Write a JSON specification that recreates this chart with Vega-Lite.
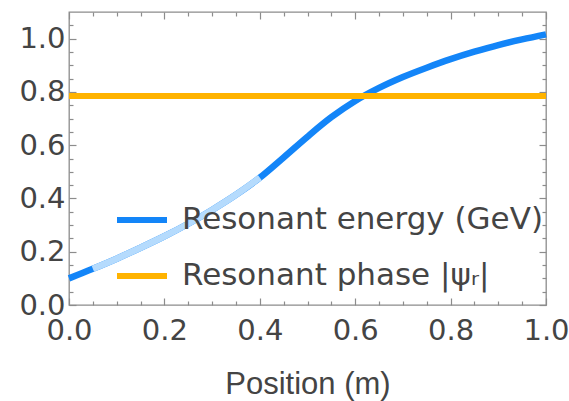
{
  "$schema": "https://vega.github.io/schema/vega-lite/v6.json",
  "width": 477,
  "height": 293,
  "autosize": {"type": "none"},
  "padding": {"left": 69, "top": 12, "right": 23, "bottom": 96},
  "background": "white",
  "config": {
    "view": {"stroke": "#8c8c8c", "strokeWidth": 1.3},
    "font": "DejaVu Sans",
    "axis": {
      "labelFont": "DejaVu Sans",
      "labelFontSize": 29,
      "labelColor": "#444444",
      "titleFont": "Liberation Sans",
      "titleFontSize": 31,
      "titleColor": "#444444",
      "titleFontWeight": "normal",
      "grid": false,
      "domain": false,
      "tickColor": "#8c8c8c",
      "tickWidth": 1.2,
      "labelOverlap": false,
      "labelFlush": false
    }
  },
  "datasets": {
    "energy": [
      {"x": 0.0, "y": 0.1, "series": "Resonant energy (GeV)"},
      {"x": 0.05, "y": 0.136, "series": "Resonant energy (GeV)"},
      {"x": 0.1, "y": 0.174, "series": "Resonant energy (GeV)"},
      {"x": 0.15, "y": 0.215, "series": "Resonant energy (GeV)"},
      {"x": 0.2, "y": 0.258, "series": "Resonant energy (GeV)"},
      {"x": 0.25, "y": 0.305, "series": "Resonant energy (GeV)"},
      {"x": 0.3, "y": 0.357, "series": "Resonant energy (GeV)"},
      {"x": 0.35, "y": 0.414, "series": "Resonant energy (GeV)"},
      {"x": 0.4, "y": 0.478, "series": "Resonant energy (GeV)"},
      {"x": 0.45, "y": 0.554, "series": "Resonant energy (GeV)"},
      {"x": 0.5, "y": 0.632, "series": "Resonant energy (GeV)"},
      {"x": 0.55, "y": 0.705, "series": "Resonant energy (GeV)"},
      {"x": 0.6, "y": 0.766, "series": "Resonant energy (GeV)"},
      {"x": 0.65, "y": 0.815, "series": "Resonant energy (GeV)"},
      {"x": 0.7, "y": 0.856, "series": "Resonant energy (GeV)"},
      {"x": 0.75, "y": 0.891, "series": "Resonant energy (GeV)"},
      {"x": 0.8, "y": 0.923, "series": "Resonant energy (GeV)"},
      {"x": 0.85, "y": 0.951, "series": "Resonant energy (GeV)"},
      {"x": 0.9, "y": 0.976, "series": "Resonant energy (GeV)"},
      {"x": 0.95, "y": 0.997, "series": "Resonant energy (GeV)"},
      {"x": 1.0, "y": 1.016, "series": "Resonant energy (GeV)"}
    ],
    "phase": [
      {"x": 0.0, "y": 0.785, "series": "Resonant phase |ψᵣ|"},
      {"x": 1.0, "y": 0.785, "series": "Resonant phase |ψᵣ|"}
    ]
  },
  "layer": [
    {
      "data": {"name": "energy"},
      "mark": {"type": "line", "strokeWidth": 6.5, "interpolate": "monotone", "strokeCap": "butt"},
      "encoding": {
        "x": {
          "field": "x",
          "type": "quantitative",
          "scale": {"domain": [0, 1], "nice": false, "zero": false},
          "axis": {
            "orient": "bottom",
            "title": "Position (m)",
            "values": [0, 0.05, 0.1, 0.15, 0.2, 0.25, 0.3, 0.35, 0.4, 0.45, 0.5, 0.55, 0.6, 0.65, 0.7, 0.75, 0.8, 0.85, 0.9, 0.95, 1],
            "labelExpr": "abs(datum.value * 5 - round(datum.value * 5)) < 0.001 ? format(datum.value, '.1f') : ''",
            "tickSize": {"condition": {"test": "abs(datum.value * 5 - round(datum.value * 5)) < 0.001", "value": -7}, "value": -4},
            "labelPadding": 18,
            "titlePadding": 21
          }
        },
        "y": {
          "field": "y",
          "type": "quantitative",
          "scale": {"domain": [0, 1.1], "nice": false, "zero": false},
          "axis": {
            "orient": "left",
            "title": null,
            "values": [0, 0.05, 0.1, 0.15, 0.2, 0.25, 0.3, 0.35, 0.4, 0.45, 0.5, 0.55, 0.6, 0.65, 0.7, 0.75, 0.8, 0.85, 0.9, 0.95, 1, 1.05],
            "labelExpr": "abs(datum.value * 5 - round(datum.value * 5)) < 0.001 ? format(datum.value, '.1f') : ''",
            "tickSize": {"condition": {"test": "abs(datum.value * 5 - round(datum.value * 5)) < 0.001", "value": -7}, "value": -4},
            "labelPadding": 11
          }
        },
        "color": {
          "field": "series",
          "type": "nominal",
          "scale": {"domain": ["Resonant energy (GeV)", "Resonant phase |ψᵣ|"], "range": ["#1385f8", "#ffb300"]},
          "legend": {
            "orient": "none",
            "legendX": 45,
            "legendY": 180,
            "title": null,
            "symbolType": "stroke",
            "symbolSize": 2500,
            "symbolStrokeWidth": 6,
            "labelFont": "DejaVu Sans",
            "labelFontSize": 31,
            "labelColor": "#444444",
            "labelLimit": 0,
            "rowPadding": 13,
            "labelOffset": 12,
            "padding": 0
          }
        }
      }
    },
    {
      "data": {"name": "energy"},
      "transform": [{"filter": "datum.x >= 0.05 && datum.x <= 0.4"}],
      "mark": {"type": "line", "strokeWidth": 6.5, "interpolate": "monotone", "strokeCap": "butt", "color": "#b5dbfd"},
      "encoding": {
        "x": {"field": "x", "type": "quantitative", "axis": null},
        "y": {"field": "y", "type": "quantitative", "axis": null}
      }
    },
    {
      "data": {"name": "phase"},
      "mark": {"type": "line", "strokeWidth": 6, "strokeCap": "butt"},
      "encoding": {
        "x": {
          "field": "x",
          "type": "quantitative",
          "axis": {
            "orient": "top",
            "title": null,
            "labels": false,
            "values": [0, 0.05, 0.1, 0.15, 0.2, 0.25, 0.3, 0.35, 0.4, 0.45, 0.5, 0.55, 0.6, 0.65, 0.7, 0.75, 0.8, 0.85, 0.9, 0.95, 1],
            "tickSize": {"condition": {"test": "abs(datum.value * 5 - round(datum.value * 5)) < 0.001", "value": -7}, "value": -4}
          }
        },
        "y": {
          "field": "y",
          "type": "quantitative",
          "axis": {
            "orient": "right",
            "title": null,
            "labels": false,
            "values": [0, 0.05, 0.1, 0.15, 0.2, 0.25, 0.3, 0.35, 0.4, 0.45, 0.5, 0.55, 0.6, 0.65, 0.7, 0.75, 0.8, 0.85, 0.9, 0.95, 1, 1.05],
            "tickSize": {"condition": {"test": "abs(datum.value * 5 - round(datum.value * 5)) < 0.001", "value": -7}, "value": -4}
          }
        },
        "color": {"field": "series", "type": "nominal"}
      }
    }
  ],
  "resolve": {"axis": {"x": "independent", "y": "independent"}}
}
